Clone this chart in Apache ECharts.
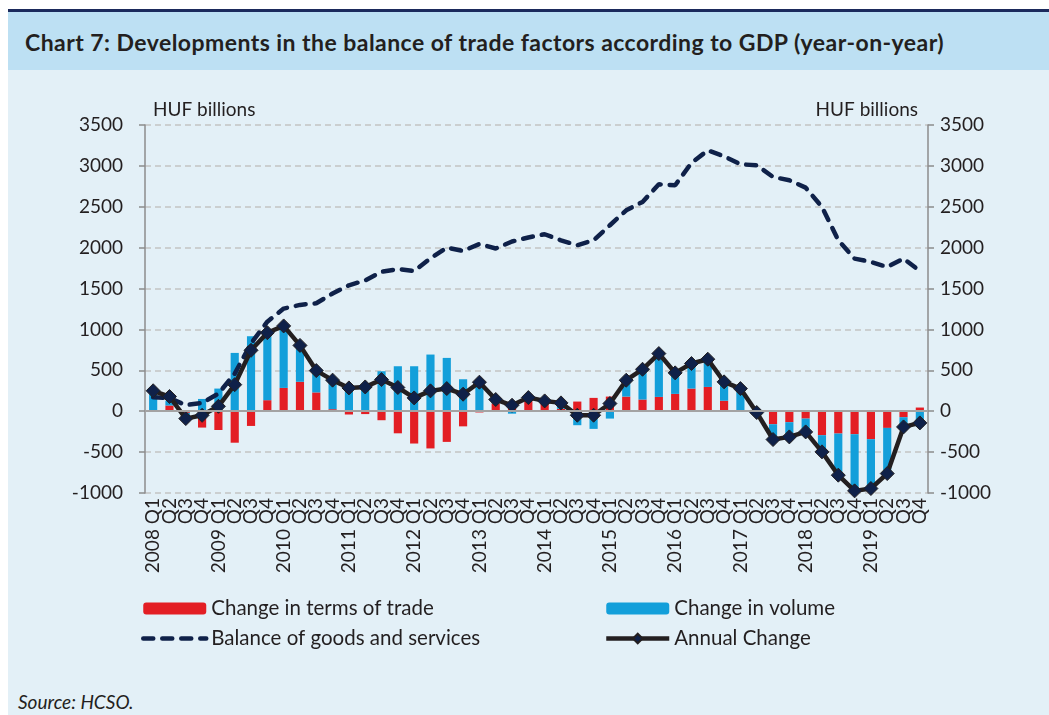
<!DOCTYPE html>
<html>
<head>
<meta charset="utf-8">
<script src="https://cdn.jsdelivr.net/npm/echarts@6/dist/echarts.min.js"></script>
<style>
  body { margin: 0; background: #fff; }
  #panel { position: absolute; left: 8px; top: 9px; width: 1041px; height: 706px; background: #e3f0f7; border-top: 3px solid #1b2a5c; }
  #head { height: 58px; background: #bde0f3; }
  #title { position: absolute; left: 17px; top: 16px; font: bold 23px Lato, sans-serif; letter-spacing: 0.45px; color: #231f20; white-space: nowrap; }
  #source { position: absolute; left: 18px; top: 690px; font: italic 19px Lato, sans-serif; color: #231f20; }
  #chart { position: absolute; left: 0; top: 0; width: 1049px; height: 715px; }
</style>
</head>
<body>
<div id="panel">
  <div id="head"></div>
  <div id="title">Chart 7: Developments in the balance of trade factors according to GDP (year-on-year)</div>
</div>
<div id="source">Source: HCSO.</div>
<div id="chart"></div>
<script>
  var years = ['2008', '2009', '2010', '2011', '2012', '2013', '2014', '2015', '2016', '2017', '2018', '2019']
  var quarters = ['Q1', 'Q2', 'Q3', 'Q4']

  // change in terms of trade (red bars)
  var termsOfTrade = [10, 70, -20, -200, -230, -385, -180, 135, 285, 360, 230, 25,
    -40, -35, -110, -270, -395, -455, -375, -185, -15, 95, 100, 150,
    100, 30, 118, 163, 179, 179, 143, 175, 212, 277, 297, 128,
    5, -10, -159, -134, -90, -293, -273, -281, -342, -204, -73, 45]
  // change in volume (blue bars)
  var volume = [200, 60, -60, 150, 277, 713, 917, 825, 745, 427, 250, 335,
    326, 325, 489, 550, 550, 693, 652, 391, 390, 45, -30, 15,
    25, 70, -171, -216, -90, 200, 370, 530, 257, 306, 339, 232,
    277, -6, -155, -160, -163, -204, -509, -690, -603, -558, -119, -188]
  // balance of goods and services (dashed)
  var balance = [170, 160, 75, 100, 215, 460, 830, 1095, 1255, 1300, 1320, 1440,
    1540, 1600, 1705, 1738, 1715, 1870, 2000, 1960, 2045, 1990, 2075, 2125,
    2164, 2090, 2030, 2090, 2274, 2457, 2559, 2775, 2763, 3036, 3190, 3117,
    3020, 3007, 2865, 2824, 2734, 2498, 2090, 1866, 1826, 1764, 1866, 1715]
  // annual change (black line with diamonds)
  var annualChange = [250, 180, -90, -50, 60, 325, 745, 960, 1043, 805, 497, 380,
    285, 297, 387, 290, 163, 249, 277, 208, 355, 143, 73, 167,
    126, 102, -49, -49, 94, 379, 513, 705, 469, 583, 636, 359,
    277, -16, -346, -314, -253, -497, -782, -974, -945, -762, -192, -143]

  var categories = []
  for (var y = 0; y < years.length; y++) {
    for (var q = 0; q < quarters.length; q++) {
      categories.push(q === 0 ? years[y] + ' ' + quarters[q] : quarters[q])
    }
  }

  var textColor = '#231f20'
  var fontFamily = 'Lato, sans-serif'

  var valueAxis = function (position, showSplit, nameAlign) {
    return {
      type: 'value',
      position: position,
      min: -1000,
      max: 3500,
      interval: 500,
      name: 'HUF billions',
      nameLocation: 'end',
      nameGap: 6,
      nameTextStyle: { color: textColor, fontSize: 19, fontFamily: fontFamily, align: nameAlign,
        padding: nameAlign === 'left' ? [0, 0, 0, 8] : [0, 10, 0, 0] },
      axisLine: { show: true, lineStyle: { color: '#8c8c8c', width: 1.5 } },
      axisTick: { show: true, length: 6, lineStyle: { color: '#8c8c8c', width: 1.5 } },
      axisLabel: {
        color: textColor, fontSize: 19, fontFamily: fontFamily,
        margin: position === 'left' ? 22 : 12,
        formatter: function (v) { return String(v) }
      },
      splitLine: { show: showSplit, lineStyle: { color: '#c4c4c4', type: [6, 4], width: 1.5 } }
    }
  }

  var legendText = { color: textColor, fontSize: 20.5, fontFamily: fontFamily }
  var hideSymbol = { opacity: 0, color: 'rgba(0,0,0,0)', borderColor: 'rgba(0,0,0,0)', borderWidth: 0 }

  var chart = echarts.init(document.getElementById('chart'))
  chart.setOption({
    backgroundColor: 'transparent',
    animation: false,
    grid: { left: 145, right: 121, top: 125, bottom: 222 },
    legend: [
      {
        data: ['Change in terms of trade', { name: 'Balance of goods and services', itemStyle: hideSymbol }],
        orient: 'vertical', left: 141, top: 598, padding: 0,
        itemWidth: 63, itemHeight: 12, itemGap: 9,
        lineStyle: { width: 'inherit' },
        textStyle: legendText
      },
      {
        data: ['Change in volume', 'Annual Change'],
        orient: 'vertical', left: 604, top: 598, padding: 0,
        itemWidth: 63, itemHeight: 12, itemGap: 9,
        lineStyle: { width: 'inherit' },
        textStyle: legendText
      }
    ],
    xAxis: {
      type: 'category',
      data: categories,
      axisLine: { show: false },
      axisTick: { show: false },
      axisLabel: { interval: 0, rotate: 90, margin: 5, color: textColor, fontSize: 19, fontFamily: fontFamily }
    },
    yAxis: [valueAxis('left', true, 'left'), valueAxis('right', false, 'right')],
    series: [
      {
        name: 'Change in terms of trade',
        type: 'bar',
        stack: 'factors',
        barWidth: '50%',
        itemStyle: { color: '#e31e24' },
        data: termsOfTrade,
        markLine: {
          silent: true,
          symbol: 'none',
          label: { show: false },
          lineStyle: { color: '#a3a3a3', type: 'solid', width: 2 },
          data: [{ yAxis: 0 }]
        }
      },
      {
        name: 'Change in volume',
        type: 'bar',
        stack: 'factors',
        barWidth: '50%',
        itemStyle: { color: '#139fda' },
        data: volume
      },
      {
        name: 'Balance of goods and services',
        type: 'line',
        symbol: 'none',
        z: 3,
        lineStyle: { color: '#0f2149', width: 4.5, type: [10, 9], cap: 'round' },
        itemStyle: { color: '#0f2149' },
        data: balance
      },
      {
        name: 'Annual Change',
        type: 'line',
        symbol: 'diamond',
        symbolSize: 14,
        z: 4,
        lineStyle: { color: '#231f20', width: 4.5 },
        itemStyle: { color: '#0f2149', borderColor: '#231f20', borderWidth: 1 },
        data: annualChange
      }
    ]
  })
</script>
</body>
</html>
